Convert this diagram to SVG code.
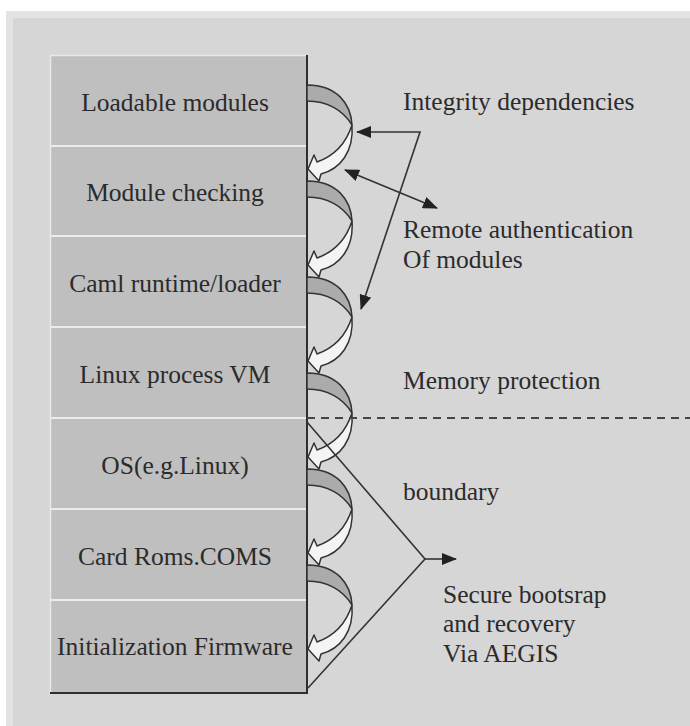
<svg xmlns="http://www.w3.org/2000/svg" xmlns:xlink="http://www.w3.org/1999/xlink" width="690" height="726" viewBox="0 0 690 726">
<style>
.lbl{font-family:"Liberation Serif","Times New Roman",serif;font-size:25.5px;fill:#2b2b2b}
.box{fill:#bfbfbf}
.div{stroke:#ececec;stroke-width:2}
.ln{stroke:#333;stroke-width:1.6;fill:none}
.band{fill:#ababab;stroke:#333;stroke-width:1.5;stroke-linejoin:round}
.rib{fill:#f4f4f4;stroke:#333;stroke-width:1.5;stroke-linejoin:round}
</style>
<defs>
<marker id="tri" markerUnits="userSpaceOnUse" markerWidth="16" markerHeight="12" refX="14" refY="6" orient="auto-start-reverse">
<path d="M0,0 L15,6 L0,12 Z" fill="#222"/>
</marker>
<g id="curl">
<path class="band" d="M307,85 C337,85 351,104 352,125 C343,110 327,101 307,101 Z"/>
<path class="rib" d="M352,125 C354,152 340,169 321,174 L319,181 L308,169 L314,155 L317,162 C331,157 345,147 352,125 Z"/>
</g>
</defs>
<rect x="0" y="0" width="690" height="726" fill="#ffffff"/>
<rect x="6" y="11" width="684" height="715" fill="#e3e3e3"/>
<rect x="13" y="18" width="677" height="708" fill="#d6d6d6"/>

<g id="column">
<g id="n1"><rect class="box" x="50" y="55" width="257" height="91"/><text class="lbl" x="175" y="111" text-anchor="middle">Loadable modules</text></g>
<g id="n2"><rect class="box" x="50" y="146" width="257" height="90"/><text class="lbl" x="175" y="201" text-anchor="middle">Module checking</text></g>
<g id="n3"><rect class="box" x="50" y="236" width="257" height="91"/><text class="lbl" x="175" y="292" text-anchor="middle">Caml runtime/loader</text></g>
<g id="n4"><rect class="box" x="50" y="327" width="257" height="91"/><text class="lbl" x="175" y="383" text-anchor="middle">Linux process VM</text></g>
<g id="n5"><rect class="box" x="50" y="418" width="257" height="91"/><text class="lbl" x="175" y="474" text-anchor="middle">OS(e.g.Linux)</text></g>
<g id="n6"><rect class="box" x="50" y="509" width="257" height="91"/><text class="lbl" x="175" y="565" text-anchor="middle">Card Roms.COMS</text></g>
<g id="n7"><rect class="box" x="50" y="600" width="257" height="93"/><text class="lbl" x="175" y="655" text-anchor="middle">Initialization Firmware</text></g>
<path class="div" d="M50,146 H306 M50,236 H306 M50,327 H306 M50,418 H306 M50,509 H306 M50,600 H306"/>
<path d="M50.5,693 V55.5 H306" stroke="#e8e8e8" stroke-width="1.5" fill="none"/>
<path d="M307,55 V693 H50" stroke="#2e2e2e" stroke-width="2" fill="none"/>
</g>

<g id="connectors">
<use xlink:href="#curl"/>
<use xlink:href="#curl" transform="translate(0,96)"/>
<use xlink:href="#curl" transform="translate(0,192)"/>
<use xlink:href="#curl" transform="translate(0,288)"/>
<use xlink:href="#curl" transform="translate(0,384)"/>
<use xlink:href="#curl" transform="translate(0,480)"/>
<path class="ln" d="M357,132 L420,132 L361,309" marker-start="url(#tri)" marker-end="url(#tri)"/>
<path class="ln" d="M345,170 L437,208" marker-start="url(#tri)" marker-end="url(#tri)"/>
<path d="M307,418 H690" stroke="#444" stroke-width="2" stroke-dasharray="8,6" fill="none"/>
<path class="ln" d="M307,422 L425,559 L308,688"/>
<path class="ln" d="M425,559 L456,559" marker-end="url(#tri)"/>
</g>

<g id="labels">
<text class="lbl" x="403" y="110">Integrity dependencies</text>
<text class="lbl" x="403" y="238">Remote authentication</text>
<text class="lbl" x="403" y="268">Of modules</text>
<text class="lbl" x="403" y="389">Memory protection</text>
<text class="lbl" x="403" y="500">boundary</text>
<text class="lbl" x="443" y="603">Secure bootsrap</text>
<text class="lbl" x="443" y="632">and recovery</text>
<text class="lbl" x="443" y="662">Via AEGIS</text>
</g>
</svg>
